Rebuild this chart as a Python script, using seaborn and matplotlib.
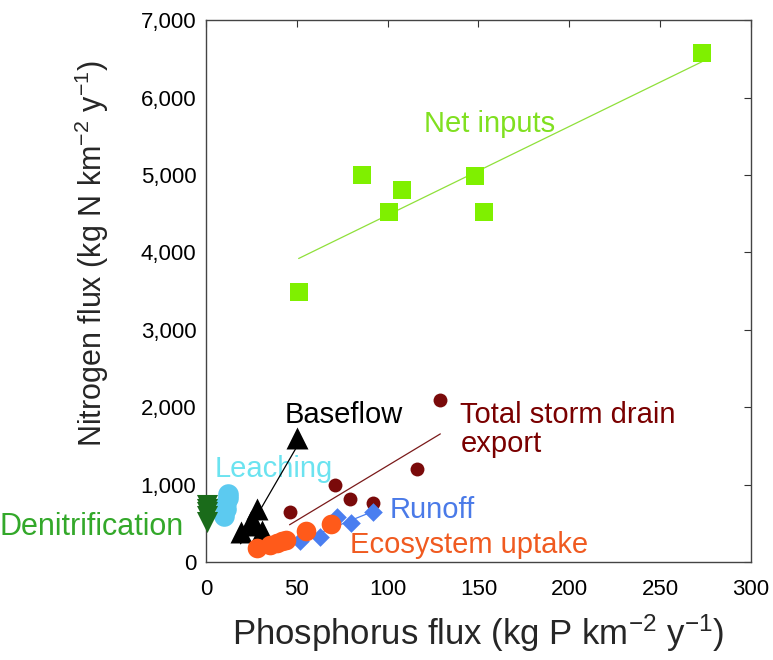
import matplotlib
matplotlib.use("Agg")
import matplotlib.pyplot as plt
import numpy as np
import seaborn as sns
from matplotlib.ticker import StrMethodFormatter

# values (P flux, N flux)
net_p = [51, 86, 101, 108, 148, 153, 273]
net_n = [3490, 5000, 4520, 4800, 4990, 4520, 6570]

storm_p = [46, 71, 79, 92, 116, 129]
storm_n = [650, 1000, 820, 760, 1200, 2090]

base_p = [19, 25, 27, 28, 31, 50]
base_n = [390, 530, 480, 680, 400, 1600]

leach_p = [10, 11, 11, 12, 12]
leach_n = [590, 680, 760, 830, 880]

denit_p = [0.5, 0.5, 0.5, 0.5, 0.5]
denit_n = [520, 600, 650, 690, 730]

runoff_p = [52, 63, 72, 80, 92]
runoff_n = [270, 320, 580, 500, 640]

eco_p = [28, 35, 39, 42, 44, 55, 69]
eco_n = [180, 225, 250, 270, 290, 400, 490]

x_ticks = [0, 50, 100, 150, 200, 250, 300]
y_ticks = [0, 1000, 2000, 3000, 4000, 5000, 6000, 7000]

sns.set_style("white")
plt.rcParams["font.family"] = ["Liberation Sans", "DejaVu Sans"]
plt.rcParams["mathtext.fontset"] = "custom"
plt.rcParams["mathtext.rm"] = "Liberation Sans"
plt.rcParams["mathtext.it"] = "Liberation Sans:italic"

fig = plt.figure(figsize=(7.73, 6.6), dpi=100)
ax = fig.add_axes([0.2665, 0.1485, 0.705, 0.821])

# fitted lines
line_kws = dict(lw=0.9, zorder=2)
sns.regplot(x=net_p, y=net_n, scatter=False, ci=None, ax=ax,
            line_kws=dict(color="#8fe03a", **line_kws))
sns.regplot(x=storm_p, y=storm_n, scatter=False, ci=None, ax=ax,
            line_kws=dict(color="#7a1a1a", **line_kws))
sns.regplot(x=runoff_p, y=runoff_n, scatter=False, ci=None, ax=ax,
            line_kws=dict(color="#4a7ef0", **line_kws))

# markers
sns.scatterplot(x=net_p, y=net_n, marker="s", s=150, color="#7ff000",
                linewidth=0, ax=ax, zorder=3)
sns.scatterplot(x=storm_p, y=storm_n, marker="o", s=100, color="#7a0a0a",
                linewidth=0, ax=ax, zorder=3)
sns.scatterplot(x=leach_p, y=leach_n, marker="o", s=220, color="#5ccaf0",
                linewidth=0, ax=ax, zorder=3)
sns.scatterplot(x=denit_p, y=denit_n, marker="v", s=230, color="#1a6b1a",
                linewidth=0, ax=ax, zorder=3, clip_on=False)
sns.scatterplot(x=base_p, y=base_n, marker="^", s=250, color="black",
                linewidth=0, ax=ax, zorder=3)
sns.regplot(x=base_p, y=base_n, scatter=False, ci=None, ax=ax,
            line_kws=dict(color="black", lw=0.9, zorder=4))
sns.scatterplot(x=runoff_p, y=runoff_n, marker="D", s=90, color="#4a7ef0",
                linewidth=0, ax=ax, zorder=4)
sns.scatterplot(x=eco_p, y=eco_n, marker="o", s=200, color="#ff5a1a",
                linewidth=0, ax=ax, zorder=5)

# series labels
fs = 21
ax.text(156, 5660, "Net inputs", color="#80e020", fontsize=fs, ha="center", va="center")
ax.text(43.5, 1800, "Baseflow", color="black", fontsize=fs, ha="left", va="baseline")
ax.text(140, 1800, "Total storm drain", color="#7a0000", fontsize=fs,
        ha="left", va="baseline")
ax.text(140, 1420, "export", color="#7a0000", fontsize=fs, ha="left", va="baseline")
ax.text(5, 1100, "Leaching", color="#6be3f0", fontsize=fs, ha="left", va="baseline")
ax.text(-12.5, 450, "Denitrification", color="#33a82a", fontsize=22, ha="right",
        va="center", clip_on=False)
ax.text(101, 672, "Runoff", color="#4a7ae8", fontsize=fs, ha="left", va="center")
ax.text(79, 220, "Ecosystem uptake", color="#f05a20", fontsize=fs, ha="left", va="center")

ax.set_xlim(0, 300)
ax.set_ylim(0, 7000)
ax.set_xticks(x_ticks)
ax.set_yticks(y_ticks)
ax.yaxis.set_major_formatter(StrMethodFormatter("{x:,.0f}"))
ax.tick_params(direction="in", length=5, width=0.8, top=True, right=True,
               labelsize=16, colors="#333333", labelcolor="black")
ax.tick_params(axis="x", pad=12)
ax.tick_params(axis="y", pad=7)
for sp in ax.spines.values():
    sp.set_color("#444444")
    sp.set_linewidth(1.0)

ax.set_xlabel("Phosphorus flux (kg P km$^{-2}$ y$^{-1}$)", fontsize=25, labelpad=9)
ax.set_ylabel("Nitrogen flux (kg N km$^{-2}$ y$^{-1}$)", fontsize=22)
ax.yaxis.set_label_coords(-0.175, 0.57)

fig.savefig("out.png", dpi=100)
